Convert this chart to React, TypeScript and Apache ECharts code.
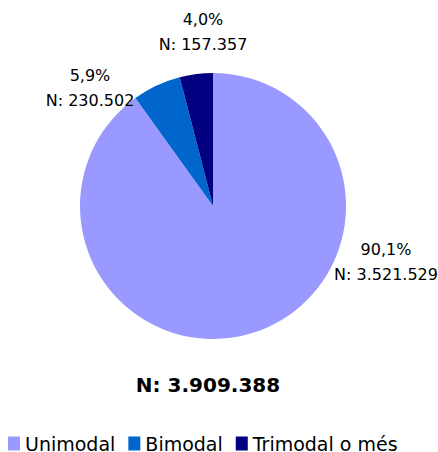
import React, { useEffect, useRef } from "react";
import * as echarts from "echarts";

const categories = ["Unimodal", "Bimodal", "Trimodal o més"];
const values = [3521529, 230502, 157357];
const colors = ["#9999FF", "#0066CC", "#000080"];
const labelPositions = [
  [386, 262],
  [90, 88],
  [203, 32],
];

const fmtInt = (n: number) => String(Math.round(n)).replace(/\B(?=(\d{3})+(?!\d))/g, ".");
const total = values.reduce((a, b) => a + b, 0);

export default function App() {
  const ref = useRef<HTMLDivElement>(null);
  useEffect(() => {
    if (!ref.current) return;
    const chart = echarts.init(ref.current, null, { renderer: "svg" });
    chart.setOption({
      animation: false,
      backgroundColor: "#ffffff",
      legend: {
        data: categories,
        left: 8,
        top: 434,
        padding: 0,
        icon: "rect",
        itemWidth: 12,
        itemHeight: 14,
        itemGap: 13,
        textStyle: {
          fontFamily: "DejaVu Sans",
          fontSize: 19,
          color: "#000",
          lineHeight: 14,
          padding: [4, 0, 0, 0],
        },
      },
      graphic: [
        {
          type: "text",
          x: 208,
          y: 385,
          style: {
            text: "N: " + fmtInt(total),
            font: "bold 20px 'DejaVu Sans'",
            fill: "#000",
            align: "center",
            verticalAlign: "middle",
          },
        },
      ],
      series: [
        {
          type: "pie",
          center: [213, 206],
          radius: [0, 133],
          startAngle: 90,
          clockwise: true,
          data: categories.map((c, i) => ({
            name: c,
            value: values[i],
            itemStyle: { color: colors[i] },
          })),
          itemStyle: { borderWidth: 0 },
          label: {
            show: true,
            position: "outside",
            fontFamily: "DejaVu Sans",
            fontSize: 16,
            lineHeight: 25,
            color: "#000",
            align: "center",
            overflow: "none",
            width: 200,
            formatter: (p: any) =>
              ((p.value / total) * 100).toFixed(1).replace(".", ",") + "%\nN: " + fmtInt(p.value),
          },
          labelLine: { show: false },
          labelLayout: (params: any) => ({
            x: labelPositions[params.dataIndex][0],
            y: labelPositions[params.dataIndex][1],
            align: "center",
            verticalAlign: "middle",
          }),
        },
      ],
    });
    return () => chart.dispose();
  }, []);
  return (
    <div
      ref={ref}
      style={{ position: "fixed", left: 0, top: 0, width: 438, height: 452, background: "#fff" }}
    />
  );
}
